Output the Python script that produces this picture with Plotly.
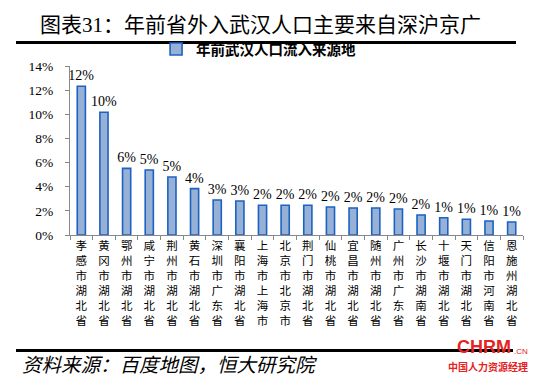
import plotly.graph_objects as go

cities = ["孝感市湖北省", "黄冈市湖北省", "鄂州市湖北省", "咸宁市湖北省", "荆州市湖北省",
          "黄石市湖北省", "深圳市广东省", "襄阳市湖北省", "上海市上海市", "北京市北京市",
          "荆门市湖北省", "仙桃市湖北省", "宜昌市湖北省", "随州市湖北省", "广州市广东省",
          "长沙市湖南省", "十堰市湖北省", "天门市湖北省", "信阳市河南省", "恩施州湖北省"]
shares = [12.32, 10.17, 5.52, 5.38, 4.80, 3.84, 2.90, 2.82, 2.46, 2.46,
          2.46, 2.32, 2.24, 2.24, 2.15, 1.66, 1.43, 1.30, 1.16, 1.08]
y_ticks = [0, 2, 4, 6, 8, 10, 12, 14]
y_tick_labels = ["0%", "2%", "4%", "6%", "8%", "10%", "12%", "14%"]
series_name = "年前武汉人口流入来源地"

SERIF = "Liberation Serif, Noto Sans CJK SC, serif"
CJK = "Noto Sans CJK SC, sans-serif"

fig = go.Figure()
fig.add_trace(go.Bar(
    x=cities, y=shares, name=series_name,
    marker=dict(color="#97B1D6", line=dict(color="#1D62C2", width=1.6)),
    texttemplate="%{y:.0f}%", textposition="outside", cliponaxis=False,
    constraintext="none",
    textfont=dict(family=SERIF, size=14, color="#000"),
    width=0.36,
))

fig.update_layout(
    width=550, height=377,
    margin=dict(l=62, r=35, t=58, b=150),
    paper_bgcolor="white", plot_bgcolor="white",
    showlegend=True,
    legend=dict(orientation="h", x=0.19, xanchor="left", y=1.10, yanchor="middle",
                font=dict(family=CJK, size=14.5, color="#000", weight="bold"),
                itemwidth=30, bgcolor="rgba(0,0,0,0)"),
    bargap=0.64,
    font=dict(family=SERIF),
)
fig.update_xaxes(
    tickmode="array", tickvals=cities,
    ticktext=["<br>".join(list(c)) for c in cities],
    tickfont=dict(family=CJK, size=11.5, color="#000"),
    showline=True, linecolor="#888", linewidth=1,
    ticks="outside", tickson="boundaries", ticklen=4, tickcolor="#888",
    tickangle=0, showgrid=False,
)
fig.update_yaxes(
    range=[0, 14], tickmode="array", tickvals=y_ticks, ticktext=y_tick_labels,
    tickfont=dict(family=SERIF, size=13.5, color="#000"),
    ticklabelstandoff=9,
    showline=True, linecolor="#888", linewidth=1,
    ticks="outside", ticklen=4, tickcolor="#888", showgrid=False, zeroline=False,
)

# title and footer rules
fig.add_shape(type="line", xref="paper", yref="paper",
              x0=-54/453, x1=446/453, y0=(227-34.5)/169, y1=(227-34.5)/169,
              line=dict(color="#000", width=3))
fig.add_shape(type="line", xref="paper", yref="paper",
              x0=-54/453, x1=443/453, y0=(227-342.5)/169, y1=(227-342.5)/169,
              line=dict(color="#000", width=3))

fig.add_annotation(text="图表31：年前省外入武汉人口主要来自深沪京广", xref="paper", yref="paper",
                   x=(30-62)/453, y=(227-17)/169, xanchor="left", yanchor="middle",
                   showarrow=False, font=dict(family=SERIF, size=21, color="#000"))
fig.add_annotation(text="<i>资料来源：百度地图，恒大研究院</i>", xref="paper", yref="paper",
                   x=(12-62)/453, y=(227-355)/169, xanchor="left", yanchor="middle",
                   showarrow=False, font=dict(family=CJK, size=19.5, color="#000"))
# watermark
fig.add_annotation(text="<b>CHRM</b>", xref="paper", yref="paper",
                   x=(476-62)/453, y=(227-339)/169, xanchor="center", yanchor="middle",
                   showarrow=False, font=dict(family="Liberation Sans, sans-serif", size=18, color="#E52323"))
fig.add_annotation(text=".CN", xref="paper", yref="paper",
                   x=(513-62)/453, y=(227-343)/169, xanchor="center", yanchor="middle",
                   showarrow=False, font=dict(family="Liberation Sans, sans-serif", size=8, color="#E52323"))
fig.add_annotation(text="<b>中国人力资源经理</b>", xref="paper", yref="paper",
                   x=(480-62)/453, y=(227-358)/169, xanchor="center", yanchor="middle",
                   showarrow=False, font=dict(family=CJK, size=10, color="#E52323"))

fig.write_html("out.html")
